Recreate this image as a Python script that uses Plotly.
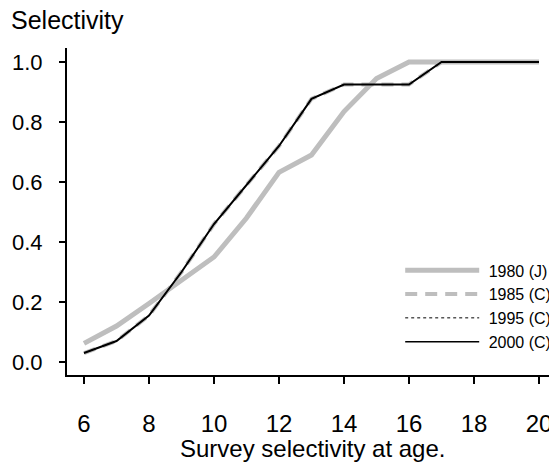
import plotly.graph_objects as go

ages = [6, 7, 8, 9, 10, 11, 12, 13, 14, 15, 16, 17, 18, 19, 20]
sel_1980 = [0.062, 0.12, 0.195, 0.27, 0.35, 0.48, 0.632, 0.69, 0.835, 0.945, 1.0, 1.0, 1.0, 1.0, 1.0]
sel_1985 = [0.03, 0.07, 0.155, 0.30, 0.46, 0.59, 0.72, 0.877, 0.925, 0.925, 0.925, 1.0, 1.0, 1.0, 1.0]
sel_1995 = [0.03, 0.07, 0.155, 0.30, 0.46, 0.59, 0.72, 0.877, 0.925, 0.925, 0.925, 1.0, 1.0, 1.0, 1.0]
sel_2000 = [0.03, 0.07, 0.155, 0.30, 0.46, 0.59, 0.72, 0.877, 0.925, 0.925, 0.925, 1.0, 1.0, 1.0, 1.0]
series_names = ["1980 (J)", "1985 (C)", "1995 (C)", "2000 (C)"]
x_ticks = [6, 8, 10, 12, 14, 16, 18, 20]
y_ticks = [0.0, 0.2, 0.4, 0.6, 0.8, 1.0]
y_ticktext = ["0.0", "0.2", "0.4", "0.6", "0.8", "1.0"]

FONT = "Liberation Sans, Arial, sans-serif"
GRAY = "#bebebe"
PAD = "\u00a0"

fig = go.Figure()
fig.add_trace(go.Scatter(x=ages, y=sel_1980, mode="lines", name=PAD + series_names[0],
                         line=dict(color=GRAY, width=5)))
fig.add_trace(go.Scatter(x=ages, y=sel_1985, mode="lines", name=PAD + series_names[1],
                         line=dict(color=GRAY, width=4, dash="12px,8px")))
fig.add_trace(go.Scatter(x=ages, y=sel_2000, mode="lines", name=series_names[3],
                         line=dict(color="black", width=2), showlegend=False))
fig.add_trace(go.Scatter(x=ages, y=sel_1995, mode="lines", name=PAD + series_names[2],
                         line=dict(color="black", width=1, dash="3px,3px")))
fig.add_trace(go.Scatter(x=[None], y=[None], mode="lines", name=PAD + series_names[3],
                         line=dict(color="black", width=1.5)))

fig.update_layout(
    template="none",
    width=549, height=461,
    margin=dict(l=59, r=0, t=40, b=94, pad=0),
    plot_bgcolor="white", paper_bgcolor="white",
    font=dict(family=FONT, size=25, color="black"),
    showlegend=True,
    legend=dict(x=0.68, y=0.372, xanchor="left", yanchor="top",
                font=dict(size=16, family=FONT), itemwidth=74,
                tracegroupgap=0, bgcolor="rgba(0,0,0,0)"),
    xaxis=dict(range=[5.477, 20.554], tickmode="array", tickvals=x_ticks,
               ticks="outside", ticklen=7, tickwidth=1.5, tickcolor="black",
               showline=True, linecolor="black", linewidth=2, automargin=False,
               showgrid=False, zeroline=False, ticklabelstandoff=19,
               tickfont=dict(size=24)),
    yaxis=dict(range=[-0.0433, 1.0467], tickmode="array", tickvals=y_ticks,
               ticktext=y_ticktext, automargin=False,
               ticks="outside", ticklen=6, tickwidth=1.5, tickcolor="black",
               showline=True, linecolor="black", linewidth=2,
               showgrid=False, zeroline=False, ticklabelstandoff=12,
               tickfont=dict(size=22)),
    annotations=[
        dict(text="Selectivity", xref="paper", yref="paper", x=-0.118, y=1.0856,
             xanchor="left", yanchor="middle", showarrow=False, font=dict(size=25)),
        dict(text="Survey selectivity at age.", xref="paper", yref="paper", x=0.5, y=-0.225,
             xanchor="center", yanchor="middle", showarrow=False, font=dict(size=24)),
    ],
)

fig.write_html("out.html")
